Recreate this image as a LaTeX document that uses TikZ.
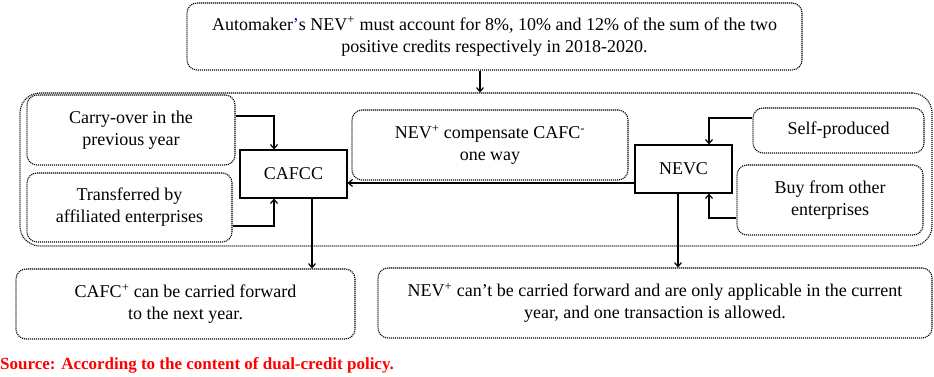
\documentclass[tikz,border=0pt]{standalone}
\usepackage{fontspec}
\setmainfont{LiberationSerif}[Extension=.ttf, UprightFont=*-Regular, BoldFont=*-Bold]
\usepackage{xcolor}
\usetikzlibrary{arrows.meta,positioning,backgrounds}

\begin{document}
\begin{tikzpicture}[
            x=1pt, y=-1pt,
            font=\fontsize{18}{22}\selectfont,
            note/.style={draw, line width=1.1pt, dash pattern=on 1.1pt off 0.9pt, rounded corners=10pt,
            inner sep=2pt, align=center},
            credit/.style={draw, line width=1.2pt, inner sep=2pt, align=center},
            frame/.style={draw, line width=1.1pt, dash pattern=on 1.1pt off 0.9pt, rounded corners=20pt},
            ar/.style={-{Straight Barb[length=4pt,width=7pt]}, line width=1.2pt}
        ]
            \useasboundingbox (0,0) rectangle (934,377);

% Requirement on top
            \node[note, minimum width=615pt, minimum height=67pt] (req) at (494.5,36.5)
                {Automaker\textcolor{blue}{'}s NEV\textsuperscript{+} must account for 8\%, 10\% and 12\% of the sum of the two\\positive credits respectively in 2018-2020.};

% Frame around the two credit accounts
            \node[frame, minimum width=912pt, minimum height=153pt] (pool) at (476,169.5) {};

% CAFC side
            \node[note, minimum width=208pt, minimum height=70pt] (carry) at (131,130)   {Carry-over in the\\previous year};
            \node[note, minimum width=205pt, minimum height=69pt] (trans) at (129.5,207.5) {Transferred by\\affiliated enterprises};
            \node[credit, minimum width=107pt, minimum height=48pt] (cafcc) at (293.5,174) {CAFCC};

% NEV side
            \node[note, minimum width=276pt, minimum height=70pt] (comp)  at (490,145)   {NEV\textsuperscript{+} compensate CAFC\textsuperscript{-}\\one way};
            \node[credit, minimum width=97pt, minimum height=48pt]  (nevc)  at (683.5,169) {NEVC};
            \node[note, minimum width=171pt, minimum height=45pt] (self)  at (838.5,130.5) {Self-produced};
            \node[note, minimum width=186pt, minimum height=70pt] (buy)   at (830,200)   {Buy from other\\enterprises};

% Rules for the positive credits
            \node[note, minimum width=339pt, minimum height=70pt] (cafcp) at (185.5,304) {CAFC\textsuperscript{+} can be carried forward\\to the next year.};
            \node[note, minimum width=554pt, minimum height=70pt] (nevp)  at (655,303)   {NEV\textsuperscript{+} can't be carried forward and are only applicable in the current\\year, and one transaction is allowed.};

            \node[anchor=west, inner sep=0pt, text=red, font=\fontsize{17}{20}\selectfont\bfseries] (src) at (0,365)
                {Source: According to the content of dual-credit policy.};

            \draw[ar] ([xshift=-14.5pt]req.south) -- ([xshift=-14.5pt]req.south |- pool.north);
            \draw[ar] ([yshift=14pt]carry.east) -| ([xshift=-19.5pt]cafcc.north);
            \draw[ar] ([yshift=-18.5pt]trans.east) -| ([xshift=-19.5pt]cafcc.south);
            \draw[ar] ([yshift=-14pt]nevc.west) -- ([yshift=-14pt]nevc.west -| cafcc.east);
            \draw[ar] ([yshift=12.5pt]self.west) -| ([xshift=25.5pt]nevc.north);
            \draw[ar] ([yshift=-18pt]buy.west) -| ([xshift=25.5pt]nevc.south);
            \draw[ar] ([xshift=18.5pt]cafcc.south) -- ([xshift=18.5pt]cafcc.south |- cafcp.north);
            \draw[ar] ([xshift=-5.5pt]nevc.south) -- ([xshift=-5.5pt]nevc.south |- nevp.north);
        \end{tikzpicture}
\end{document}
